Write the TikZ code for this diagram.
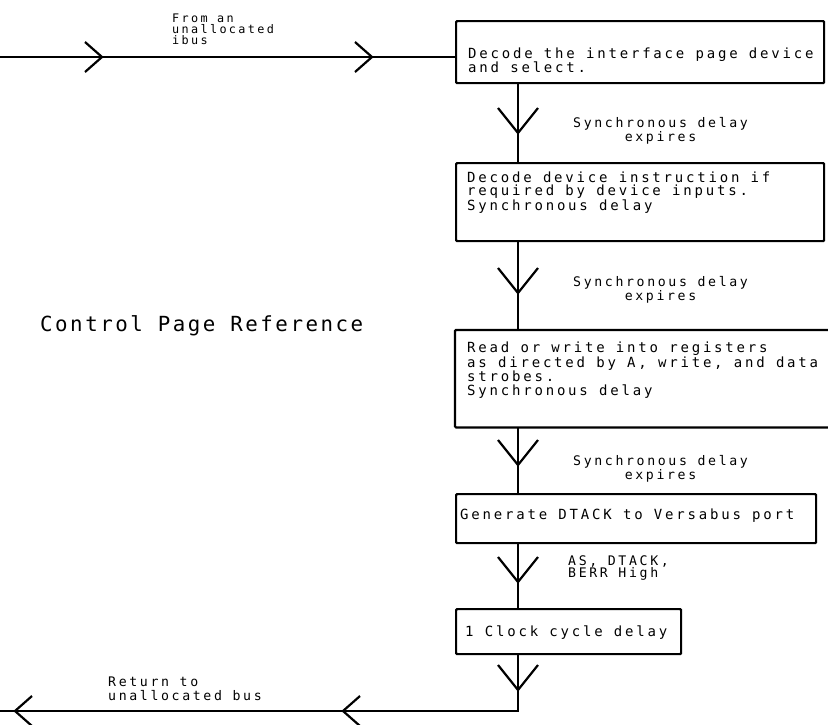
\documentclass[tikz,border=0pt]{standalone}
\usepackage{fontspec}
\newfontfamily\monofam[LetterSpace=20]{DejaVu Sans Mono}
\newfontfamily\titlefam[LetterSpace=12]{DejaVu Sans Mono}
\usetikzlibrary{calc}
\newcommand\vchevron[2]{\draw[chev] (#1-20,#2-25) -- (#1,#2) -- (#1+20,#2-25);}
\newcommand\rchevron[2]{\draw[chev] (#1-17,#2-15) -- (#1,#2) -- (#1-17,#2+15);}
\newcommand\lchevron[2]{\draw[chev] (#1+17,#2-15) -- (#1,#2) -- (#1+17,#2+15);}
\begin{document}
\begin{tikzpicture}[x=1pt,y=-1pt,
  flow/.style={line width=2.2pt},
  chev/.style={line width=2.2pt, line join=miter},
  box/.style={draw, line width=2.2pt, inner sep=0pt, anchor=north west, rounded corners=1pt},
  openbox/.style={inner sep=0pt, anchor=north west},
  boxtext/.style={anchor=base west, inner sep=0pt, align=left},
  lab/.style={anchor=base west, inner sep=0pt}
]
\useasboundingbox (0,0) rectangle (828,724);

% boxes
\node[box, minimum width=368pt, minimum height=62pt] (B1) at (455,20) {};
\node[box, minimum width=368pt, minimum height=78pt] (B2) at (455,162) {};
\node[openbox, minimum width=373pt, minimum height=97pt] (B3) at (455,330) {};
\draw[flow, rounded corners=1pt] (B3.north east) -- (B3.north west) -- (B3.south west) -- (B3.south east);
\node[box, minimum width=360pt, minimum height=49pt] (B4) at (455,493) {};
\node[box, minimum width=225pt, minimum height=45pt] (B5) at (455,608) {};

% box texts (anchor = baseline of last line)
\node[boxtext, font=\monofam\fontsize{14}{14.5}\selectfont] (T1) at (468,72.5)
  {Decode the interface page device\\and select.};
\node[boxtext, font=\monofam\fontsize{14}{12.5}\selectfont] (T2) at (467,210)
  {Decode device instruction if\\required by device inputs.\\Synchronous delay};
\node[boxtext, font=\monofam\fontsize{14}{13.3}\selectfont] (T3) at (467,395)
  {Read or write into registers\\as directed by A, write, and data\\strobes.\\Synchronous delay};
\node[boxtext, font=\monofam\fontsize{14}{13}\selectfont] (T4) at (460,519)
  {Generate DTACK to Versabus port};
\node[boxtext, font=\monofam\fontsize{14}{13}\selectfont] (T5) at (465,636)
  {1 Clock cycle delay};

% labels (anchor = baseline of last line)
\node[lab, align=left, font=\monofam\fontsize{11.8}{11}\selectfont] (L0) at (172,44)
  {From an\\unallocated\\ibus};
\node[lab, align=center, font=\monofam\fontsize{13.2}{12.5}\selectfont] (L1) at (573,141.5)
  {Synchronous delay\\expires};
\node[lab, align=center, font=\monofam\fontsize{13.2}{12.5}\selectfont] (L2) at (573,300.5)
  {Synchronous delay\\expires};
\node[lab, align=center, font=\monofam\fontsize{13.2}{12.5}\selectfont] (L3) at (573,479.5)
  {Synchronous delay\\expires};
\node[lab, align=left, font=\monofam\fontsize{13.2}{12.5}\selectfont] (L4) at (568,577.5)
  {AS, DTACK,\\BERR High};
\node[lab, align=left, font=\monofam\fontsize{13.2}{14}\selectfont] (L5) at (108,700)
  {Return to\\unallocated bus};
\node[lab, font=\titlefam\fontsize{20.8}{22}\selectfont] (title) at (40,331)
  {Control Page Reference};

% flow lines
\coordinate (start) at (0,57);
\coordinate (vx) at (518,0);
\coordinate (finish) at (0,711);
\draw[flow] (start) -- (start -| B1.west);
\draw[flow] (B1.south -| vx) -- (B2.north -| vx);
\draw[flow] (B2.south -| vx) -- (B3.north -| vx);
\draw[flow] (B3.south -| vx) -- (B4.north -| vx);
\draw[flow] (B4.south -| vx) -- (B5.north -| vx);
\draw[flow] (B5.south -| vx) |- (finish);

% chevrons
\rchevron{102}{57}
\rchevron{372}{57}
\vchevron{518}{133}
\vchevron{518}{293}
\vchevron{518}{465}
\vchevron{518}{582}
\vchevron{518}{690}
\lchevron{15}{711}
\lchevron{343}{711}
\end{tikzpicture}
\end{document}
